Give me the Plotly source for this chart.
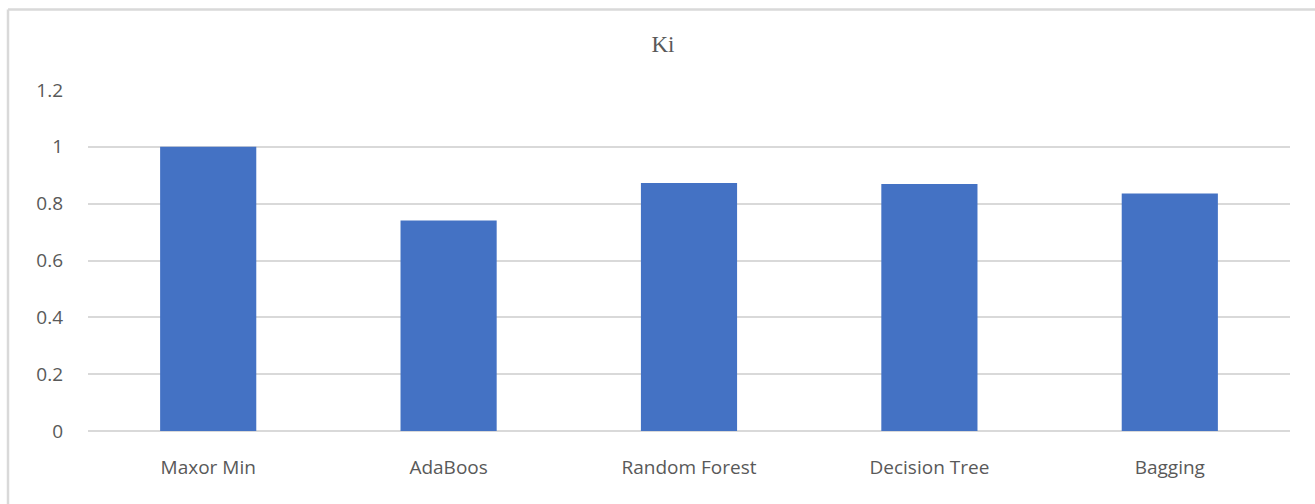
import plotly.graph_objects as go

categories = ["Maxor Min", "AdaBoos", "Random Forest", "Decision Tree", "Bagging"]
values = [1.0, 0.741, 0.873, 0.869, 0.836]
y_ticks = [0, 0.2, 0.4, 0.6, 0.8, 1, 1.2]
y_tick_labels = ["0", "0.2", "0.4", "0.6", "0.8", "1", "1.2"]
title_text = "Ki"

W, H = 1315, 504
L, R, T, B = 88, 25, 90, 73
pw = W - L - R
ph = H - T - B

fig = go.Figure()
fig.add_trace(go.Bar(
    x=categories, y=values, width=0.4,
    marker=dict(color="#4472C4", line=dict(width=0)),
    hoverinfo="x+y",
))

# outer frame (top and left edges visible)
bx = (8 - L) / pw
by = 1 + (T - 9.5) / ph
fig.add_shape(type="line", xref="paper", yref="paper", x0=bx, x1=1 + (R + 10) / pw, y0=by, y1=by,
              line=dict(color="#d9d9d9", width=2.5))
fig.add_shape(type="line", xref="paper", yref="paper", x0=bx, x1=bx, y0=by, y1=-(B + 10) / ph,
              line=dict(color="#d9d9d9", width=2.5))

fig.update_layout(
    width=W, height=H,
    margin=dict(l=L, r=R, t=T, b=B, pad=0),
    paper_bgcolor="white", plot_bgcolor="white",
    showlegend=False,
    bargap=0.6,
    title=dict(text=title_text, x=(663) / W, xanchor="center", y=1 - 44 / H, yanchor="middle",
               yref="container", xref="container",
               font=dict(family="Liberation Serif, Times New Roman, serif", size=23, color="#595959")),
    font=dict(family="Open Sans, sans-serif", size=19, color="#595959"),
    xaxis=dict(showgrid=False, showline=False, zeroline=False, ticks="",
               tickfont=dict(size=19, color="#595959"), ticklabelstandoff=23),
    yaxis=dict(range=[0, 1.2], tickvals=y_ticks, ticktext=y_tick_labels,
               showgrid=True, gridcolor="#d9d9d9", gridwidth=1.5,
               zeroline=True, zerolinecolor="#d9d9d9", zerolinewidth=1.5,
               showline=False, ticks="", tickfont=dict(size=19, color="#595959"),
               ticklabelstandoff=24),
)

fig.write_html("out.html")
